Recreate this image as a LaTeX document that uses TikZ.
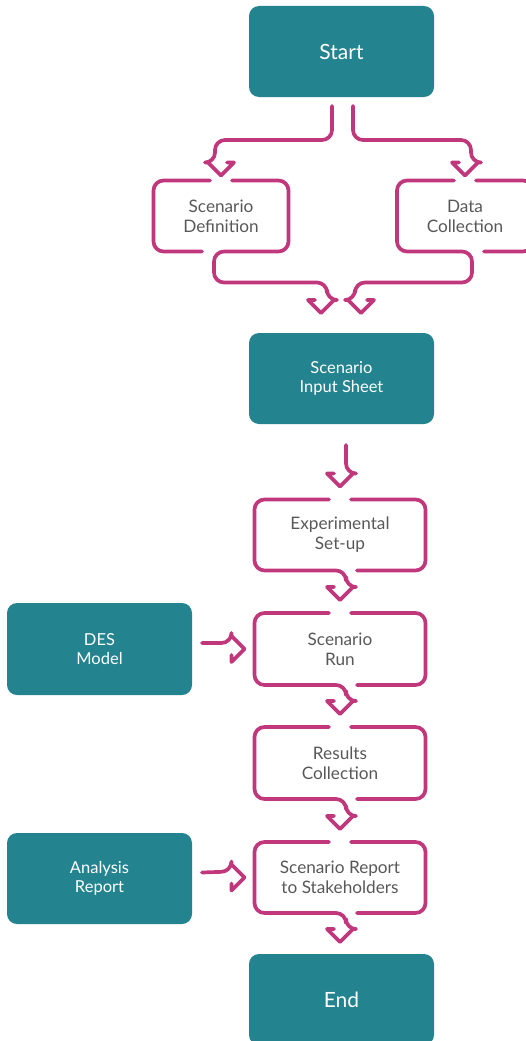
\documentclass[tikz,border=0pt]{standalone}
\usepackage{fontspec}
\setmainfont{Lato}
\usetikzlibrary{calc}
\definecolor{boxteal}{HTML}{23838F}
\definecolor{flowpink}{HTML}{C0377B}
\definecolor{labelgray}{HTML}{585858}
\begin{document}
\begin{tikzpicture}[x=1pt,y=-1pt,
  tealbox/.style={fill=boxteal, rounded corners=10pt, text=white,
    minimum width=185pt, minimum height=91pt, inner sep=0pt, outer sep=0pt,
    align=center, font=\fontsize{16.5}{19}\selectfont},
  bigtext/.style={font=\fontsize{21}{24}\selectfont},
  pinkbox/.style={minimum width=171pt, minimum height=71pt, inner sep=0pt,
    outer sep=0pt, align=center, text=labelgray, font=\fontsize{17.2}{20}\selectfont},
  flow/.style={draw=flowpink, line width=3.7pt, line cap=round, line join=round,
    rounded corners=10pt},
  % open chevron heads; the shaft meets one of the two flat stubs
  chevL/.style={sharp corners, insert path={-- ++(7,0) -- ++(-13,13) -- ++(-13,-13) -- ++(7,0)}},
  chevR/.style={sharp corners, insert path={-- ++(-7,0) -- ++(13,13) -- ++(13,-13) -- ++(-7,0)}},
  chevE/.style={sharp corners, insert path={-- ++(0,-7) -- ++(13,13) -- ++(-13,13) -- ++(0,-7)}},
]
\useasboundingbox (0,0) rectangle (526,1041);
\clip (0,0) rectangle (526,1041);

% boxes
\node[tealbox, bigtext] (start) at (341.5,51.5) {Start};
\node[pinkbox, minimum width=135pt] (sd) at (221,216) {Scenario\\Definition};
\node[pinkbox, minimum width=136pt] (dc) at (465,216) {Data\\Collection};
\node[tealbox] (sis) at (341.5,378.5) {Scenario\\Input Sheet};
\node[pinkbox] (exp) at (340,535) {Experimental\\Set-up};
\node[pinkbox, minimum height=72pt] (run) at (340,649) {Scenario\\Run};
\node[pinkbox, minimum height=72pt] (res) at (340,763) {Results\\Collection};
\node[pinkbox] (rep) at (340,877.5) {Scenario Report\\to Stakeholders};
\node[tealbox, bigtext] (end) at (341.5,999.5) {End};
\node[tealbox, minimum height=92pt] (des) at (99.5,649) {DES\\Model};
\node[tealbox] (ana) at (99.5,878.5) {Analysis\\Report};

% arrow tip points
\coordinate (sdIn) at ([yshift=5pt]sd.north);
\coordinate (dcIn) at ([yshift=5pt]dc.north);
\coordinate (sisInL) at ([xshift=-20.5pt,yshift=20pt]sis.north);
\coordinate (sisInR) at ([xshift=19.5pt,yshift=20pt]sis.north);
\coordinate (expIn) at ([yshift=13pt]exp.north);
\coordinate (runIn) at ([yshift=13pt]run.north);
\coordinate (resIn) at ([yshift=13pt]res.north);
\coordinate (repIn) at ([yshift=13pt]rep.north);
\coordinate (endIn) at ([xshift=-1.5pt,yshift=12pt]end.north);
\coordinate (runSide) at ([xshift=-10pt]run.west);
\coordinate (repSide) at ([xshift=-10pt]rep.west);

% start splits into the two preparation steps
\draw[flow] ([xshift=-9.5pt,yshift=-9pt]start.south) -- ++(0,34)
  -| ([shift={(-6,-13)}]sdIn) [chevR];
\draw[flow] ([xshift=11.5pt,yshift=-9pt]start.south) -- ++(0,34)
  -| ([shift={(6,-13)}]dcIn) [chevL];

% scenario definition outline, its lower edge running on to the input sheet
\draw[flow] ([xshift=-11pt]sd.north) -| (sd.west) |- ([xshift=-19pt]sd.south);
\draw[flow] ([xshift=11pt]sd.north) -| (sd.east) |- ([xshift=-7pt]sd.south)
  -- ++(0,31) -| ([shift={(6,-13)}]sisInL) [chevL];

% data collection outline and its connector
\draw[flow] ([xshift=11pt]dc.north) -| (dc.east) |- ([xshift=19pt]dc.south);
\draw[flow] ([xshift=-11pt]dc.north) -| (dc.west) |- ([xshift=7pt]dc.south)
  -- ++(0,31) -| ([shift={(-6,-13)}]sisInR) [chevR];

% input sheet to experimental set-up
\draw[flow] ([xshift=4.5pt,yshift=-21pt]sis.south) -- ([shift={(6,-13)}]expIn) [chevL];

% main column of steps
\foreach \a/\b in {exp/runIn, run/resIn, res/repIn, rep/endIn} {
  \draw[flow] ([xshift=11pt]\a.north) -| (\a.east) |- ([xshift=17pt]\a.south);
  \draw[flow] ([xshift=-11pt]\a.north) -| (\a.west) |- ([xshift=6pt]\a.south)
    -- ([shift={(6,-13)}]\b) [chevL];
}

% side inputs
\draw[flow] ([xshift=10pt,yshift=6pt]des.east) -- ([shift={(-13,-6)}]runSide) [chevE];
\draw[flow] ([xshift=10pt,yshift=6pt]ana.east) -- ([shift={(-13,-6)}]repSide) [chevE];
\end{tikzpicture}
\end{document}
